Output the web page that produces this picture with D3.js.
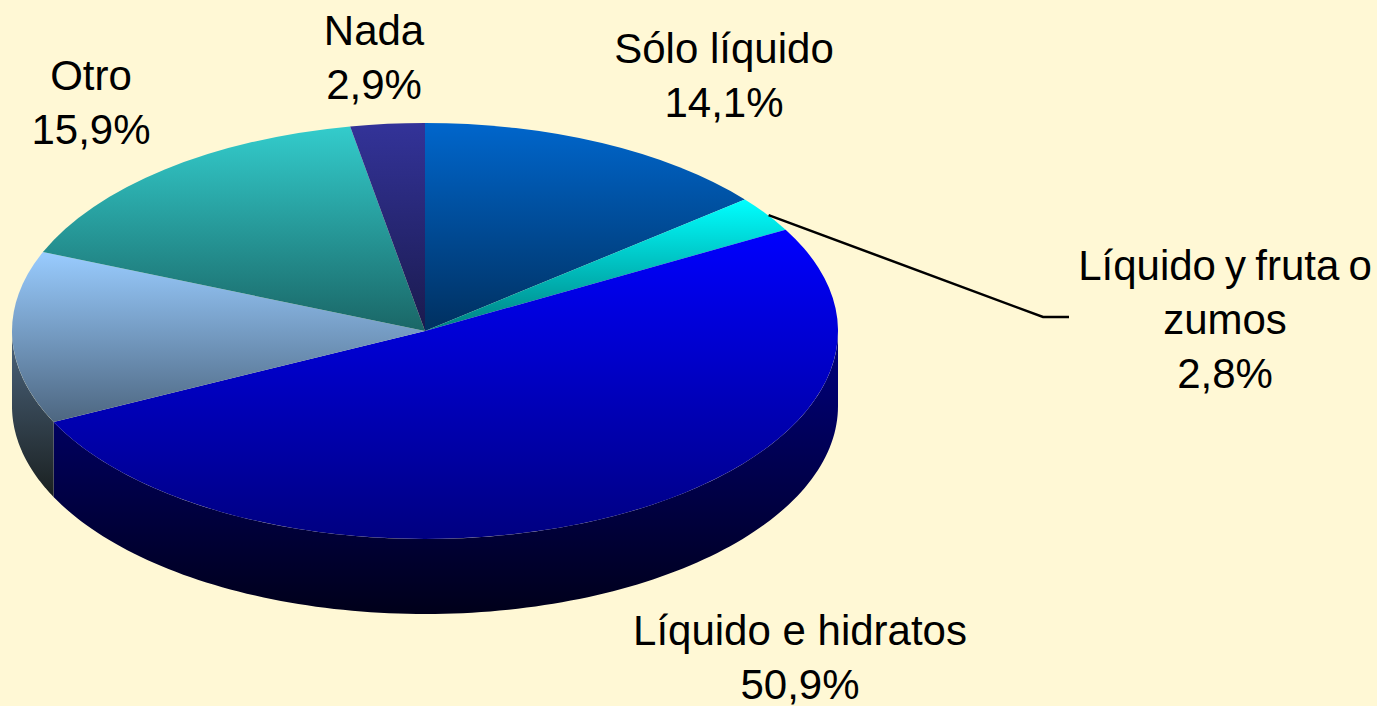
<!DOCTYPE html>
<html>
<head>
<meta charset="utf-8">
<script src="https://cdn.jsdelivr.net/npm/d3@7"></script>
<style>
    html, body { margin: 0; padding: 0; background: #fff8d5; overflow: hidden; }
    text { font-family: "Liberation Sans", Arial, sans-serif; font-size: 42px; fill: #000; text-anchor: middle; }
    .label1 { word-spacing: -2.5px; }
</style>
</head>
<body>
<svg class="chart" width="1377" height="706"></svg>
<script>
var categories = ['Sólo líquido', 'Líquido y fruta o zumos', 'Líquido e hidratos', 'Sin etiqueta', 'Otro', 'Nada']
var values = [14.1, 2.8, 50.9, 13.4, 15.9, 2.9]

var labelLines = [
    ['Sólo líquido', '14,1%'],
    ['Líquido y fruta o', 'zumos', '2,8%'],
    ['Líquido e hidratos', '50,9%'],
    [],
    ['Otro', '15,9%'],
    ['Nada', '2,9%']
]
var labelX = [724, 1225, 800, 0, 91, 374]
var labelY = [63, 280, 645, 0, 90, 45]
var lineStep = 54

var topColors = ['#0066cc', '#00ffff', '#0000ff', '#99ccff', '#33cccc', '#333399']
var bottomColors = ['#003060', '#008080', '#000080', '#4d6680', '#1a6666', '#1a1a4d']
var wallTop = ['#003366', '#008080', '#000080', '#4d6680', '#1a6666', '#1a1a4d']
var wallBottom = ['#000000', '#000000', '#00001a', '#1a2020', '#000000', '#000000']

var svg = d3.select('.chart')
var defs = svg.append('defs')

var xScale = d3.scaleLinear().domain([-1, 1]).range([12, 838])
var yScale = d3.scaleLinear().domain([1, -1]).range([123, 539])
var depth = 75

function addGradient(id, c1, c2) {
    var g = defs.append('linearGradient').attr('id', id)
        .attr('x1', 0).attr('y1', 0).attr('x2', 0).attr('y2', 1)
    g.append('stop').attr('offset', '0%').attr('stop-color', c1)
    g.append('stop').attr('offset', '100%').attr('stop-color', c2)
}

values.forEach(function(v, i) {
    addGradient('top' + i, topColors[i], bottomColors[i])
    addGradient('wall' + i, wallTop[i], wallBottom[i])
})

var slices = d3.pie().sort(null)(values)

// point on the rim of the top face, angle 0 is 12 o'clock and goes clockwise
function rimX(a) { return xScale(Math.sin(a)) }
function rimY(a) { return yScale(Math.cos(a)) }

var line = d3.line()

// walls are only visible on the front half of the pie
var wallsG = svg.append('g')
slices.forEach(function(d, i) {
    var start = Math.max(d.startAngle, Math.PI / 2)
    var end = Math.min(d.endAngle, Math.PI * 1.5)
    if (start >= end) return
    var angles = d3.range(0, 121).map(function(k) { return start + (end - start) * k / 120 })
    var pts = angles.map(function(a) { return [rimX(a), rimY(a)] })
        .concat(angles.slice().reverse().map(function(a) { return [rimX(a), rimY(a) + depth] }))
    wallsG.append('path')
        .attr('d', line(pts) + 'Z')
        .style('fill', 'url(#wall' + i + ')')
})

// big radius and scaled down, rounding on a unit arc pushes the half circle out of shape
var arc = d3.arc().innerRadius(0).outerRadius(1000)

var topG = svg.append('g')
    .attr('transform', 'translate(' + xScale(0) + ',' + yScale(0) + ') scale(' +
        (xScale(1) - xScale(0)) / 1000 + ',' + (yScale(-1) - yScale(0)) / 1000 + ')')

topG.selectAll('.slice').data(slices)
    .enter()
    .append('path')
    .attr('class', 'slice')
    .attr('d', arc)
    .style('fill', function(d, i) { return 'url(#top' + i + ')' })

// leader line for the small slice
var leaderAngle = (slices[1].startAngle + slices[1].endAngle) / 2
svg.append('path')
    .attr('d', line([[rimX(leaderAngle) + 2, rimY(leaderAngle) + 1], [1043, 317], [1069, 317]]))
    .style('fill', 'none')
    .style('stroke', '#000')
    .style('stroke-width', 2.5)

labelLines.forEach(function(lines, i) {
    svg.selectAll('.label' + i).data(lines)
        .enter()
        .append('text')
        .attr('class', 'label' + i)
        .attr('x', labelX[i])
        .attr('y', function(d, k) { return labelY[i] + k * lineStep })
        .text(function(d) { return d })
})
</script>
</body>
</html>
